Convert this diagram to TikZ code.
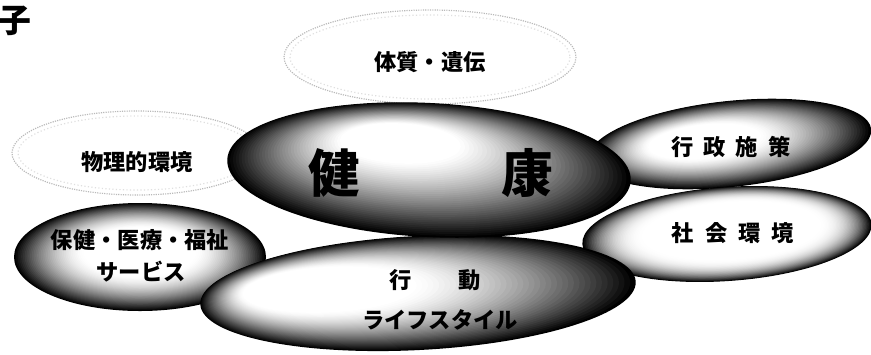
\documentclass[tikz,border=0pt]{standalone}
\usepackage{fontspec}
\newfontfamily\cjk{Noto Sans CJK JP}
% #1 cx, #2 cy, #3 rx, #4 ry, #5 angle, #6 hx, #7 hy, #8 white fraction, #9 exponent
\newcommand{\halftoneellipse}[9]{%
  \begin{scope}[shift={(#1,#2)}, rotate=#5]
    \foreach \t in {0,...,39}{%
      \pgfmathsetmacro\hts{1-(1-#8)*\t/39}%
      \pgfmathsetmacro\htk{100*(1-\t/39)^#9}%
      \fill[black!\htk] ({\t/39*#6},{\t/39*#7}) ellipse [x radius={\hts*#3}, y radius={\hts*#4}];
    }%
  \end{scope}}
\tikzset{
  faint/.style={fill=white, draw=gray!55, densely dotted, line width=1pt},
  faintin/.style={draw=gray!25, dotted, line width=1pt},
  lbl/.style={font=\cjk\bfseries\fontsize{19}{23}\selectfont, inner sep=0pt},
  big/.style={font=\cjk\bfseries\fontsize{44}{48}\selectfont, inner sep=0pt},
}
\begin{document}
\begin{tikzpicture}[x=0.03cm,y=-0.03cm]
\useasboundingbox (0,0) rectangle (871,354);
% faint ellipses
\path[faint] (430,57) ellipse [x radius=146, y radius=47];
\path[faintin] (430,57) ellipse [x radius=140, y radius=42];
\path[faint] (137,153) ellipse [x radius=125, y radius=42];
\path[faintin] (137,153) ellipse [x radius=119, y radius=37];
% dark ellipses
\halftoneellipse{140}{257}{126}{54}{0}{0}{-5}{0.45}{1.6}
\halftoneellipse{730}{144}{142}{43}{6}{-25}{-5}{0.4}{1.4}
\halftoneellipse{727}{234}{145}{47}{4}{5}{-3}{0.6}{2.4}
\halftoneellipse{418}{293}{218}{57}{3}{-88}{-8}{0.4}{1.4}
\halftoneellipse{429}{170}{202}{67}{-3}{-30}{-25}{0.3}{1.2}
% labels
\node[font=\cjk\bfseries\fontsize{28}{30}\selectfont, inner sep=0pt] (ko) at (15,21) {子};
\node[lbl] (taishitsu) at (430,62) {体質・遺伝};
\node[lbl] (butsuri) at (137,162) {物理的環境};
\node[lbl] (hoken) at (140,240) {保健・医療・福祉};
\node[lbl] (service) at (141,272) {サービス};
\node[big] (ken) at (334,173) {健};
\node[big] (kou) at (527,173) {康};
\node[lbl] (gyosei) at (731,147) {行\hspace{0.45em}政\hspace{0.45em}施\hspace{0.45em}策};
\node[lbl] (shakai) at (733,233) {社\hspace{0.5em}会\hspace{0.5em}環\hspace{0.5em}境};
\node[lbl] (ko1) at (401,280) {行};
\node[lbl] (ko2) at (470,280) {動};
\node[lbl] (life) at (440,320) {ライフスタイル};
\end{tikzpicture}
\end{document}
